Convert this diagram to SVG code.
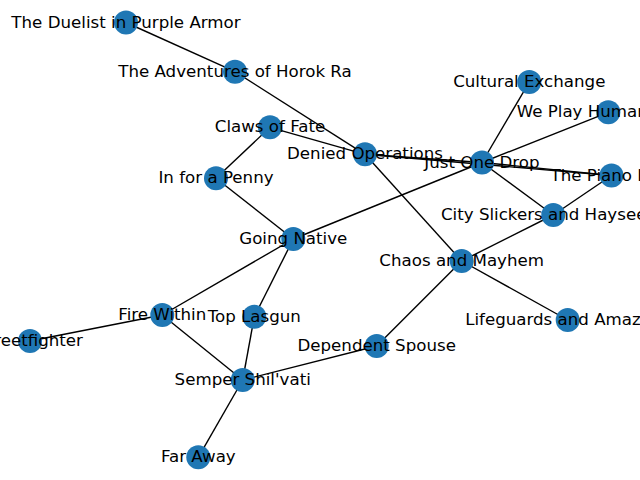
<svg xmlns="http://www.w3.org/2000/svg" width="640" height="480" viewBox="0 0 640 480">
<style>
.e{stroke:#000;stroke-width:1.4;fill:none}
.n circle{fill:#1f77b4}
.n text{font-family:"DejaVu Sans",sans-serif;font-size:16.67px;fill:#000;text-anchor:middle}
</style>
<rect width="640" height="480" fill="#fff"/>
<g id="edges" class="e">
<line x1="126" y1="22.5" x2="235" y2="71.7"/>
<line x1="235" y1="71.7" x2="365" y2="154.3"/>
<line x1="270" y1="127.3" x2="365" y2="154.3"/>
<line x1="270" y1="127.3" x2="216" y2="178.3"/>
<line x1="365" y1="154.3" x2="482" y2="162.5"/>
<line x1="365" y1="154.3" x2="611.5" y2="175.5"/>
<line x1="482" y1="162.5" x2="611.5" y2="175.5"/>
<line x1="365" y1="154.3" x2="461.7" y2="261"/>
<line x1="482" y1="162.5" x2="529.3" y2="82"/>
<line x1="482" y1="162.5" x2="608.3" y2="112.3"/>
<line x1="482" y1="162.5" x2="553.3" y2="215"/>
<line x1="482" y1="162.5" x2="293.3" y2="239"/>
<line x1="611.5" y1="175.5" x2="553.3" y2="215"/>
<line x1="553.3" y1="215" x2="461.7" y2="261"/>
<line x1="216" y1="178.3" x2="293.3" y2="239"/>
<line x1="293.3" y1="239" x2="162.3" y2="315"/>
<line x1="293.3" y1="239" x2="254.3" y2="316.7"/>
<line x1="461.7" y1="261" x2="567.7" y2="320"/>
<line x1="461.7" y1="261" x2="376.7" y2="346"/>
<line x1="376.7" y1="346" x2="242.7" y2="380"/>
<line x1="162.3" y1="315" x2="30" y2="341"/>
<line x1="162.3" y1="315" x2="242.7" y2="380"/>
<line x1="254.3" y1="316.7" x2="242.7" y2="380"/>
<line x1="242.7" y1="380" x2="198.3" y2="457.3"/>
</g>
<g id="n-duelist" class="n"><circle cx="126" cy="22.5" r="12"/><text x="126" y="27.5">The Duelist in Purple Armor</text></g>
<g id="n-horok" class="n"><circle cx="235" cy="71.7" r="12"/><text x="235" y="76.7">The Adventures of Horok Ra</text></g>
<g id="n-cultural" class="n"><circle cx="529.3" cy="82" r="12"/><text x="529.3" y="87">Cultural Exchange</text></g>
<g id="n-weplay" class="n"><circle cx="608.3" cy="112.3" r="12"/><text x="516.7" y="117.3" style="text-anchor:start">We Play Human</text></g>
<g id="n-claws" class="n"><circle cx="270" cy="127.3" r="12"/><text x="270" y="132.3">Claws of Fate</text></g>
<g id="n-denied" class="n"><circle cx="365" cy="154.3" r="12"/><text x="365" y="159.3">Denied Operations</text></g>
<g id="n-justone" class="n"><circle cx="482" cy="162.5" r="12"/><text x="482" y="167.5">Just One Drop</text></g>
<g id="n-piano" class="n"><circle cx="611.5" cy="175.5" r="12"/><text x="611.5" y="180.5">The Piano Man</text></g>
<g id="n-penny" class="n"><circle cx="216" cy="178.3" r="12"/><text x="216" y="183.3">In for a Penny</text></g>
<g id="n-city" class="n"><circle cx="553.3" cy="215" r="12"/><text x="553.3" y="220">City Slickers and Hayseeds</text></g>
<g id="n-going" class="n"><circle cx="293.3" cy="239" r="12"/><text x="293.3" y="244">Going Native</text></g>
<g id="n-chaos" class="n"><circle cx="461.7" cy="261" r="12"/><text x="461.7" y="266">Chaos and Mayhem</text></g>
<g id="n-lifeguards" class="n"><circle cx="567.7" cy="320" r="12"/><text x="567.7" y="325">Lifeguards and Amazons</text></g>
<g id="n-fire" class="n"><circle cx="162.3" cy="315" r="12"/><text x="162.3" y="320">Fire Within</text></g>
<g id="n-toplasgun" class="n"><circle cx="254.3" cy="316.7" r="12"/><text x="254.3" y="321.7">Top Lasgun</text></g>
<g id="n-street" class="n"><circle cx="30" cy="341" r="12"/><text x="30" y="346">Streetfighter</text></g>
<g id="n-spouse" class="n"><circle cx="376.7" cy="346" r="12"/><text x="376.7" y="351">Dependent Spouse</text></g>
<g id="n-semper" class="n"><circle cx="242.7" cy="380" r="12"/><text x="242.7" y="385">Semper Shil'vati</text></g>
<g id="n-faraway" class="n"><circle cx="198.3" cy="457.3" r="12"/><text x="198.3" y="462.3">Far Away</text></g>
</svg>
